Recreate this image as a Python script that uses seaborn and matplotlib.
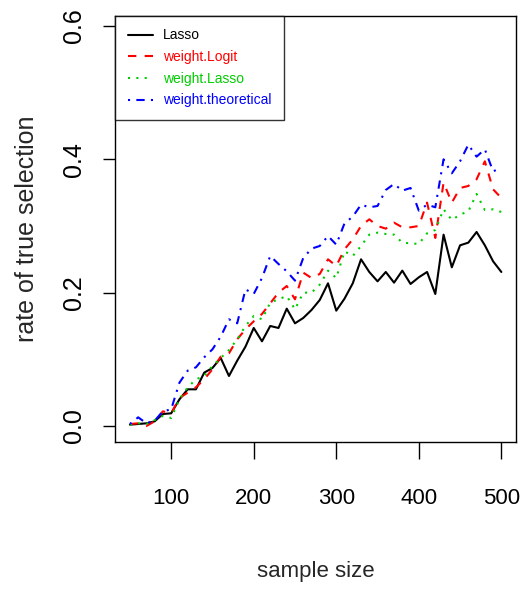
#!/usr/bin/env python
# -*- coding: utf-8 -*-

"""
Taux de vraie sélection selon la taille d'échantillon (Lasso et variantes pondérées).
"""

import pandas as pd
import matplotlib
matplotlib.use("Agg")
import matplotlib.pyplot as plt
import seaborn as sns

# Tailles d'échantillon (axe x)
sample_sizes = list(range(50, 510, 10))

# Valeurs
lasso = [0.002, 0.003, 0.004, 0.007, 0.018, 0.019, 0.040, 0.055, 0.055, 0.080,
         0.087, 0.102, 0.075, 0.098, 0.119, 0.147, 0.127, 0.150, 0.147, 0.176,
         0.154, 0.162, 0.174, 0.189, 0.214, 0.173, 0.191, 0.214, 0.250, 0.231,
         0.217, 0.231, 0.215, 0.233, 0.213, 0.223, 0.231, 0.198, 0.287, 0.238,
         0.271, 0.275, 0.291, 0.271, 0.247, 0.231]
weight_logit = [0.003, 0.004, 0.000, 0.007, 0.022, 0.019, 0.042, 0.050, 0.058, 0.070,
                0.085, 0.104, 0.109, 0.130, 0.145, 0.157, 0.168, 0.184, 0.200, 0.210,
                0.190, 0.230, 0.222, 0.228, 0.250, 0.240, 0.265, 0.280, 0.300, 0.310,
                0.300, 0.296, 0.305, 0.298, 0.298, 0.300, 0.335, 0.282, 0.365, 0.335,
                0.357, 0.360, 0.370, 0.397, 0.355, 0.342]
weight_lasso = [0.002, 0.004, 0.003, 0.009, 0.015, 0.012, 0.040, 0.058, 0.070, 0.075,
                0.090, 0.102, 0.114, 0.130, 0.150, 0.165, 0.160, 0.185, 0.190, 0.195,
                0.175, 0.200, 0.200, 0.212, 0.233, 0.222, 0.262, 0.255, 0.270, 0.287,
                0.290, 0.288, 0.287, 0.275, 0.274, 0.273, 0.289, 0.294, 0.325, 0.309,
                0.317, 0.322, 0.348, 0.324, 0.325, 0.321]
weight_theoretical = [0.003, 0.013, 0.004, 0.008, 0.022, 0.025, 0.065, 0.083, 0.088, 0.103,
                      0.115, 0.134, 0.160, 0.154, 0.205, 0.198, 0.222, 0.255, 0.243, 0.232,
                      0.218, 0.252, 0.266, 0.270, 0.285, 0.272, 0.304, 0.314, 0.332, 0.328,
                      0.330, 0.354, 0.363, 0.353, 0.357, 0.323, 0.332, 0.328, 0.400, 0.379,
                      0.397, 0.422, 0.404, 0.415, 0.382, 0.387]

methods = ["Lasso", "weight.Logit", "weight.Lasso", "weight.theoretical"]
colors = ["black", "#FF0000", "#00CD00", "#0000FF"]
x_ticks = [100, 200, 300, 400, 500]
y_ticks = [0.0, 0.2, 0.4, 0.6]


def build_dataframe():
    """Assemble les séries en format long pour seaborn."""
    series = [lasso, weight_logit, weight_lasso, weight_theoretical]
    frames = []
    for name, values in zip(methods, series):
        frames.append(pd.DataFrame({"n": sample_sizes, "rate": values, "method": name}))
    return pd.concat(frames, ignore_index=True)


def main():
    df = build_dataframe()

    sns.set_style("ticks")
    plt.rcParams["font.family"] = ["Liberation Sans", "DejaVu Sans"]

    fig = plt.figure(figsize=(5.23, 5.89), dpi=100)
    ax = fig.add_axes([0.220, 0.2496, 0.767, 0.7233])

    # Styles de trait façon R : lty 1, 2, 3, 4
    dashes = {
        "Lasso": "",
        "weight.Logit": (4, 4),
        "weight.Lasso": (1, 3),
        "weight.theoretical": (1, 3, 4, 3),
    }
    sns.lineplot(data=df, x="n", y="rate", hue="method", style="method",
                 hue_order=methods, style_order=methods,
                 palette=dict(zip(methods, colors)), dashes=dashes,
                 linewidth=1.5, legend=False, ax=ax)

    ax.set_xlim(32, 518)
    ax.set_ylim(-0.024, 0.615)
    ax.set_xticks(x_ticks)
    ax.set_xticklabels([str(v) for v in x_ticks])
    ax.set_yticks(y_ticks)
    ax.set_yticklabels([f"{v:.1f}" for v in y_ticks])

    for spine in ax.spines.values():
        spine.set_visible(True)
        spine.set_color("black")
        spine.set_linewidth(1.0)

    ax.tick_params(axis="x", direction="out", length=12, width=1.0, pad=21,
                   labelsize=16, colors="black")
    ax.tick_params(axis="y", direction="out", length=9, width=1.0, pad=12,
                   labelsize=18, colors="black", labelrotation=90)
    for lab in ax.get_yticklabels():
        lab.set_verticalalignment("center")

    ax.set_xlabel("sample size", fontsize=16)
    ax.set_ylabel("rate of true selection", fontsize=18)
    ax.xaxis.set_label_coords(0.5, -0.28)
    ax.yaxis.set_label_coords(-0.19, 0.5)

    leg = ax.legend(handles=ax.lines[:4], labels=methods, loc="upper left",
                    borderaxespad=0, frameon=True, fancybox=False, fontsize=10,
                    handlelength=1.8, handletextpad=0.75, labelspacing=0.55,
                    borderpad=0.9, labelcolor="linecolor")
    leg.get_frame().set_edgecolor("black")
    leg.get_frame().set_linewidth(1.0)

    fig.savefig("out.png", dpi=100, facecolor="white")
    plt.close(fig)


if __name__ == "__main__":
    main()
